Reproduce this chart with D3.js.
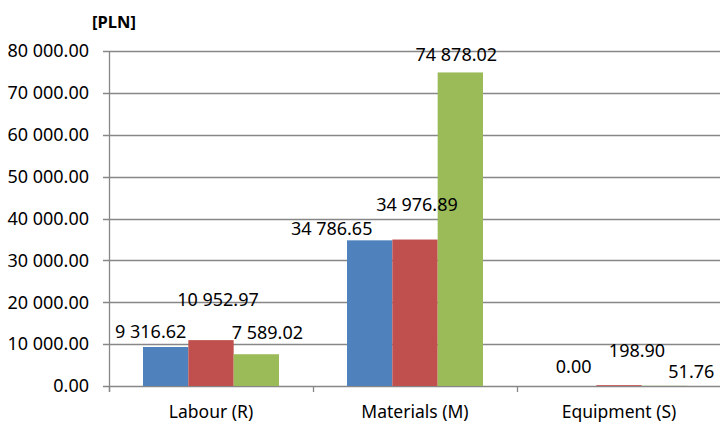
<!DOCTYPE html>
<html>
<head>
<meta charset="utf-8">
<script src="https://cdn.jsdelivr.net/npm/d3@7"></script>
<style>
  body { margin: 0; background: #fff; }
  text { font-family: "Noto Sans", sans-serif; fill: #000; }
</style>
</head>
<body>
<div class="chart"></div>
<script>
// chart values
const categories = ["Labour (R)", "Materials (M)", "Equipment (S)"];
const seriesNames = ["s1", "s2", "s3"];
const series1 = [9316.62, 34786.65, 0.00];
const series2 = [10952.97, 34976.89, 198.90];
const series3 = [7589.02, 74878.02, 51.76];
const yTicks = [0, 10000, 20000, 30000, 40000, 50000, 60000, 70000, 80000];
const unitLabel = "[PLN]";

// label nudges (px) per category, per series, so labels sit where they do in the original
const labelNudge = [
  [[-15, -15], [7, -40], [11, -22]],
  [[-38, -12], [2, -35], [-4, -18]],
  [[0, -19], [18, -34], [27, -14]]
];

const colors = ["#4F81BD", "#C0504D", "#9BBB59"];
const allSeries = [series1, series2, series3];

const width = 720, height = 424;
const margin = ({top: 51, right: 0, bottom: 38, left: 109});

const svg = d3.select('.chart')
  .append('svg')
  .attr('width', width)
  .attr('height', height);

const x0 = d3.scaleBand()
  .domain(categories)
  .range([margin.left, 721])
  .paddingInner(0)
  .paddingOuter(0);

const x1 = d3.scaleBand()
  .domain(seriesNames)
  .range([0, x0.bandwidth()])
  .paddingOuter(0.75)
  .paddingInner(0);

const y = d3.scaleLinear()
  .domain([0, 80000])
  .range([height - margin.bottom, margin.top]);

const fmt = v => d3.format(",.2f")(v).replace(/,/g, " ");

// gridlines
svg.append("g")
  .selectAll("line")
  .data(yTicks)
  .enter()
  .append("line")
    .attr("x1", margin.left - 6)
    .attr("x2", 720)
    .attr("y1", d => Math.round(y(d)) + 0.5)
    .attr("y2", d => Math.round(y(d)) + 0.5)
    .attr("stroke", "#878787")
    .attr("stroke-width", 1.3);

// y labels
svg.append("g")
  .selectAll("text")
  .data(yTicks)
  .enter()
  .append("text")
    .attr("x", 89)
    .attr("y", d => y(d))
    .attr("dy", "0.35em")
    .attr("text-anchor", "end")
    .style("font-size", "18px")
    .text(d => fmt(d));

// y axis line
svg.append("line")
  .attr("x1", margin.left + 0.5)
  .attr("x2", margin.left + 0.5)
  .attr("y1", y(80000))
  .attr("y2", y(0) + 6)
  .attr("stroke", "#878787")
  .attr("stroke-width", 1.3);

// category ticks
svg.append("g")
  .selectAll("line")
  .data(categories.concat(["end"]))
  .enter()
  .append("line")
    .attr("x1", (d, i) => Math.round(margin.left + i * x0.bandwidth()) + 0.5)
    .attr("x2", (d, i) => Math.round(margin.left + i * x0.bandwidth()) + 0.5)
    .attr("y1", y(0))
    .attr("y2", y(0) + 6)
    .attr("stroke", "#878787")
    .attr("stroke-width", 1.3);

// bars
const groups = svg.append("g")
  .selectAll("g")
  .data(categories)
  .enter()
  .append("g")
    .attr("transform", d => `translate(${x0(d)},0)`);

groups.selectAll("rect")
  .data((d, ci) => allSeries.map((s, si) => ({v: s[ci], si: si, ci: ci})))
  .enter()
  .append("rect")
    .attr("x", d => x1(seriesNames[d.si]))
    .attr("width", x1.bandwidth())
    .attr("y", d => y(d.v))
    .attr("height", d => y(0) - y(d.v))
    .style("fill", d => colors[d.si]);

// value labels
groups.selectAll("text")
  .data((d, ci) => allSeries.map((s, si) => ({v: s[ci], si: si, ci: ci})))
  .enter()
  .append("text")
    .attr("x", d => x1(seriesNames[d.si]) + x1.bandwidth() / 2 + labelNudge[d.ci][d.si][0])
    .attr("y", d => y(d.v) + labelNudge[d.ci][d.si][1])
    .attr("dy", "0.35em")
    .attr("text-anchor", "middle")
    .style("font-size", "18px")
    .text(d => fmt(d.v));

// category labels
svg.append("g")
  .selectAll("text")
  .data(categories)
  .enter()
  .append("text")
    .attr("x", d => x0(d) + x0.bandwidth() / 2)
    .attr("y", 412)
    .attr("dy", "0.35em")
    .attr("text-anchor", "middle")
    .style("font-size", "17.5px")
    .text(d => d);

svg.append("text")
  .attr("x", 114)
  .attr("y", 22)
  .attr("dy", "0.35em")
  .attr("text-anchor", "middle")
  .style("font-size", "16.5px")
  .style("font-weight", "bold")
  .text(unitLabel);
</script>
</body>
</html>
